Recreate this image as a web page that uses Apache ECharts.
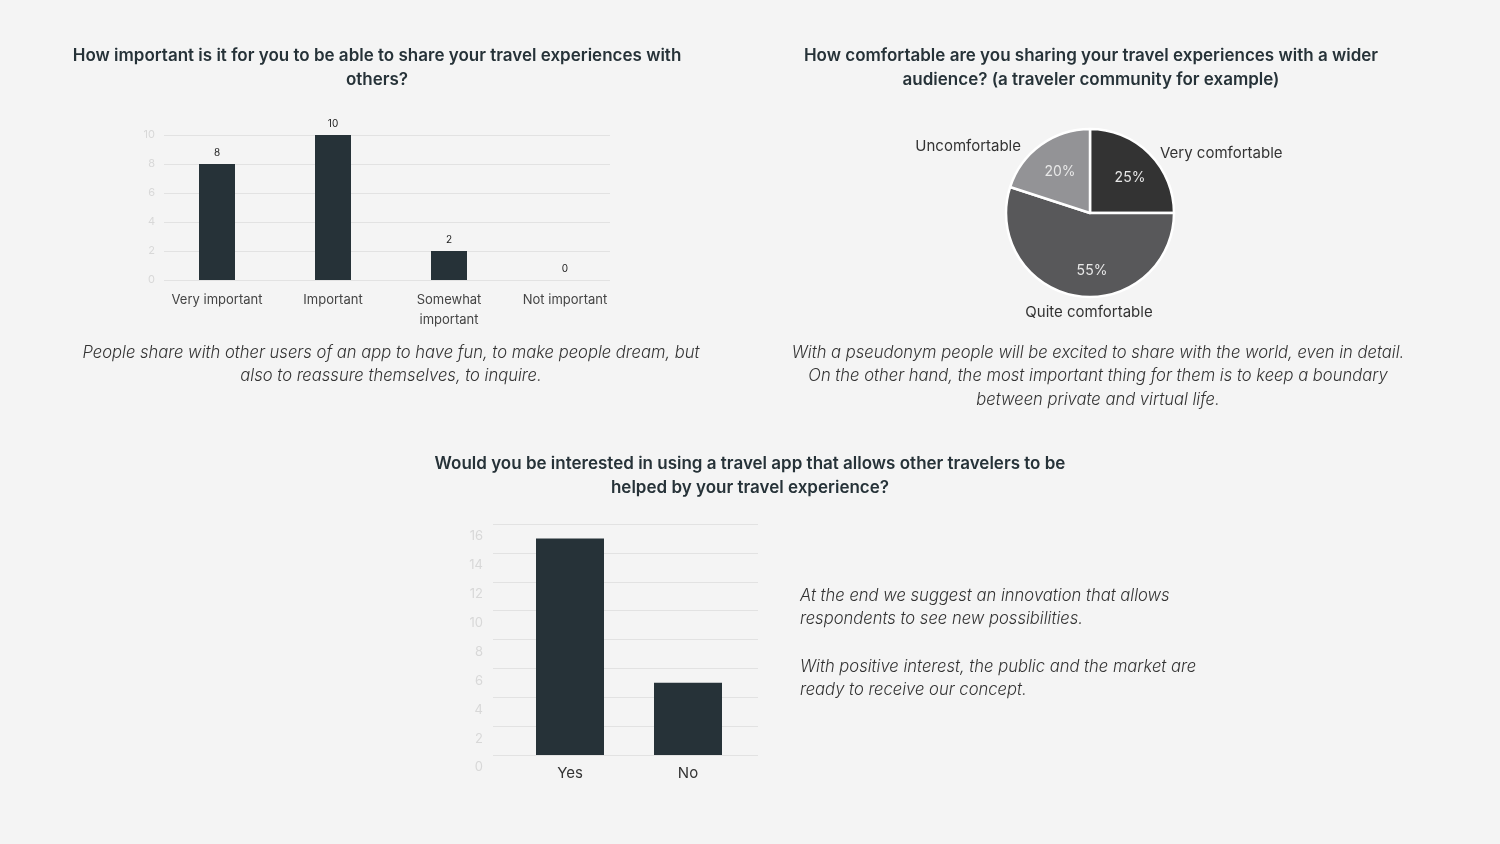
<!DOCTYPE html>
<html><head><meta charset="utf-8">
<script src="https://cdn.jsdelivr.net/npm/echarts@6/dist/echarts.min.js"></script>
<style>html,body{margin:0;padding:0;background:#f4f4f4}#c{width:1500px;height:844px}</style>
</head><body><div id="c"></div>
<script>
// ---- data ----
const importanceCats = ['Very important', 'Important', 'Somewhat\nimportant', 'Not important'];
const importanceVals = [8, 10, 2, 0];
const comfortCats = ['Very comfortable', 'Quite comfortable', 'Uncomfortable'];
const comfortVals = [25, 55, 20];
const interestCats = ['Yes', 'No'];
const interestVals = [15, 5];

const title1 = 'How important is it for you to be able to share your travel experiences with\nothers?';
const title2 = 'How comfortable are you sharing your travel experiences with a wider\naudience? (a traveler community for example)';
const title3 = 'Would you be interested in using a travel app that allows other travelers to be\nhelped by your travel experience?';
const note1 = 'People share with other users of an app to have fun, to make people dream, but\nalso to reassure themselves, to inquire.';
const note2 = 'With a pseudonym people will be excited to share with the world, even in detail.\nOn the other hand, the most important thing for them is to keep a boundary\nbetween private and virtual life.';
const note3 = 'At the end we suggest an innovation that allows\nrespondents to see new possibilities.\n\nWith positive interest, the public and the market are\nready to receive our concept.';

const FONT = 'Inter';
const dark = '#263238';
const chart = echarts.init(document.getElementById('c'));

function titleText(x, y, t) {
  return {type:'text', x, y, style:{text:t, fill:dark, font:'600 17px ' + FONT, align:'center', verticalAlign:'top', lineHeight:24}};
}
function noteText(x, y, t, align) {
  return {type:'text', x, y, style:{text:t, fill:'#333', font:'italic 300 16.6px ' + FONT, align:align, verticalAlign:'top', lineHeight:23.6}};
}

const gridLine = {show:true, lineStyle:{color:'#e2e2e2', width:1}};
const pieCenter = [1090, 213];
// outside-label placement (offsets from pie centre) and alignment, per slice
const pieLabelPos = [
  {dx: 70, dy: -60, align: 'left'},
  {dx: -1, dy: 99, align: 'center'},
  {dx: -69, dy: -67, align: 'right'}
];
// percentage-label placement (offsets from pie centre), per slice
const piePctPos = [
  {dx: 40, dy: -35},
  {dx: 2, dy: 58},
  {dx: -30, dy: -41}
];

chart.setOption({
  backgroundColor:'#f4f4f4',
  animation:false,
  graphic:[
    titleText(377, 44, title1),
    titleText(1091, 44, title2),
    titleText(750, 452, title3),
    noteText(391, 341, note1, 'center'),
    noteText(1098, 341, note2, 'center'),
    noteText(800, 584, note3, 'left')
  ],
  grid:[
    {left:164, right:890, top:135, height:145},
    {left:159, right:877, top:135, height:145},
    {left:493, right:742, top:524, height:231},
    {left:511, right:753, top:524, height:231}
  ],
  xAxis:[
    {gridIndex:0, type:'category', data:importanceCats, show:false},
    {gridIndex:1, type:'category', data:importanceCats, axisLine:{show:false}, axisTick:{show:false},
     axisLabel:{color:'#444', fontSize:13, fontFamily:FONT, lineHeight:20, margin:10, interval:0}},
    {gridIndex:2, type:'category', data:interestCats, show:false},
    {gridIndex:3, type:'category', data:interestCats, axisLine:{show:false}, axisTick:{show:false},
     axisLabel:{color:'#333', fontSize:15, fontFamily:FONT, margin:11}}
  ],
  yAxis:[
    {gridIndex:0, type:'value', min:0, max:10, interval:2, axisLine:{show:false}, axisTick:{show:false},
     splitLine:gridLine, axisLabel:{color:'#d8d8d8', fontSize:11, fontFamily:FONT, margin:9, padding:[5,0,0,0]}},
    {gridIndex:1, type:'value', min:0, max:10, interval:2, show:false, splitLine:{show:false}},
    {gridIndex:2, type:'value', min:0, max:16, interval:2, axisLine:{show:false}, axisTick:{show:false},
     splitLine:gridLine, axisLabel:{color:'#d8d8d8', fontSize:13, fontFamily:FONT, margin:10, verticalAlign:'top', padding:[6,0,0,0]}},
    {gridIndex:3, type:'value', min:0, max:16, interval:2, show:false, splitLine:{show:false}}
  ],
  series:[
    {type:'bar', xAxisIndex:1, yAxisIndex:1, data:importanceVals, barWidth:36,
     itemStyle:{color:dark},
     label:{show:true, position:'top', color:'#222', fontSize:10, fontFamily:FONT, distance:6}},
    {type:'bar', xAxisIndex:3, yAxisIndex:3, data:interestVals, barWidth:68,
     itemStyle:{color:dark}},
    // coloured pie with outside category labels
    {type:'pie', center:pieCenter, radius:[0,84], startAngle:90, clockwise:true,
     data:comfortCats.map((n,i)=>({name:n, value:comfortVals[i]})),
     color:['#333333','#58585a','#939396'],
     itemStyle:{borderColor:'#ffffff', borderWidth:2.5},
     label:{show:true, position:'outside', formatter:'{b}', color:'#333', fontSize:15, fontFamily:FONT},
     labelLine:{show:false},
     labelLayout:function(p){
       const o = pieLabelPos[p.dataIndex];
       return {x: pieCenter[0] + o.dx, y: pieCenter[1] + o.dy, align: o.align, verticalAlign:'middle'};
     },
     emphasis:{disabled:true}},
    // transparent copy carrying the percentage labels
    {type:'pie', center:pieCenter, radius:[0,84], startAngle:90, clockwise:true, silent:true, z:3,
     data:comfortCats.map((n,i)=>({name:n, value:comfortVals[i]})),
     itemStyle:{color:'transparent', borderWidth:0},
     label:{show:true, position:'inside', formatter:'{c}%', color:'#e8e8e8', fontSize:14, fontFamily:FONT},
     labelLine:{show:false},
     labelLayout:function(p){
       const o = piePctPos[p.dataIndex];
       return {x: pieCenter[0] + o.dx, y: pieCenter[1] + o.dy, align:'center', verticalAlign:'middle'};
     },
     emphasis:{disabled:true}}
  ]
});
</script></body></html>
